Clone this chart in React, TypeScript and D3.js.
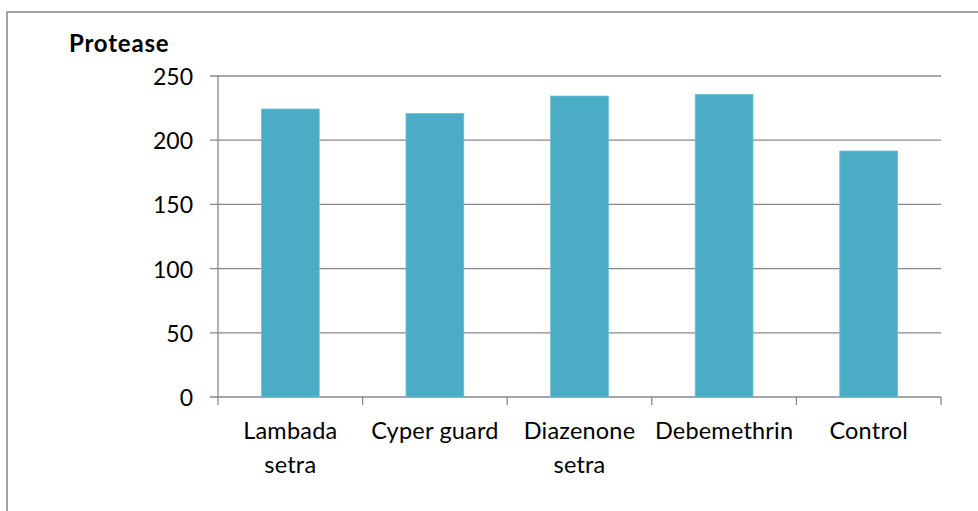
import * as d3 from "d3";

const categories = ["Lambada setra", "Cyper guard", "Diazenone setra", "Debemethrin", "Control"];
const labelLines = [["Lambada", "setra"], ["Cyper guard"], ["Diazenone", "setra"], ["Debemethrin"], ["Control"]];
const protease = [224.3, 220.9, 234.4, 235.7, 191.6];
const yTicks = [0, 50, 100, 150, 200, 250];

const W = 978;
const H = 511;
const font = "Lato, 'Open Sans', sans-serif";

export default function App() {
  const x = d3.scaleBand<string>().domain(categories).range([218, 941]).padding(0);
  const y = d3.scaleLinear().domain([0, 250]).range([397, 76]);
  const barW = x.bandwidth() * 0.4;
  const grid = "#888";

  return (
    <svg
      width={W}
      height={H}
      viewBox={`0 0 ${W} ${H}`}
      style={{ position: "absolute", left: 0, top: 0, background: "#fff" }}
    >
      <rect x={0} y={0} width={W} height={H} fill="#fff" />
      {/* chart frame, cut off at right and bottom */}
      <path d={`M7,${H} V12 H${W}`} fill="none" stroke={grid} strokeWidth={1.5} />

      <text x={69} y={52} fontFamily={font} fontWeight="bold" fontSize={24} letterSpacing={0.8} fill="#000">
        Protease
      </text>

      {/* gridlines and y ticks */}
      <g>
        {yTicks.map((t) => (
          <g key={t}>
            <line x1={210} x2={941} y1={y(t)} y2={y(t)} stroke={grid} strokeWidth={1.3} />
            <text
              x={193}
              y={y(t)}
              textAnchor="end"
              dominantBaseline="central"
              fontFamily={font}
              fontSize={23}
              fill="#000"
            >
              {t}
            </text>
          </g>
        ))}
      </g>

      {/* y axis */}
      <line x1={218} x2={218} y1={y(250)} y2={y(0) + 8} stroke={grid} strokeWidth={1.3} />

      {/* x axis category ticks */}
      {categories.map((c) => (
        <line
          key={c}
          x1={(x(c) ?? 0) + x.bandwidth()}
          x2={(x(c) ?? 0) + x.bandwidth()}
          y1={y(0)}
          y2={y(0) + 8}
          stroke={grid}
          strokeWidth={1.3}
        />
      ))}

      {/* bars */}
      <g>
        {categories.map((c, i) => {
          const cx = (x(c) ?? 0) + x.bandwidth() / 2;
          return (
            <rect
              key={c}
              x={cx - barW / 2}
              y={y(protease[i])}
              width={barW}
              height={y(0) - y(protease[i])}
              fill="#4BACC6"
              stroke="#6CC0D6"
              strokeWidth={0.75}
            />
          );
        })}
      </g>

      {/* x labels */}
      <g>
        {categories.map((c, i) => {
          const cx = (x(c) ?? 0) + x.bandwidth() / 2;
          return (
            <text key={c} textAnchor="middle" fontFamily={font} fontSize={23.5} letterSpacing={0.2} fill="#000">
              {labelLines[i].map((l, j) => (
                <tspan key={j} x={cx} y={439 + j * 34}>
                  {l}
                </tspan>
              ))}
            </text>
          );
        })}
      </g>
    </svg>
  );
}
